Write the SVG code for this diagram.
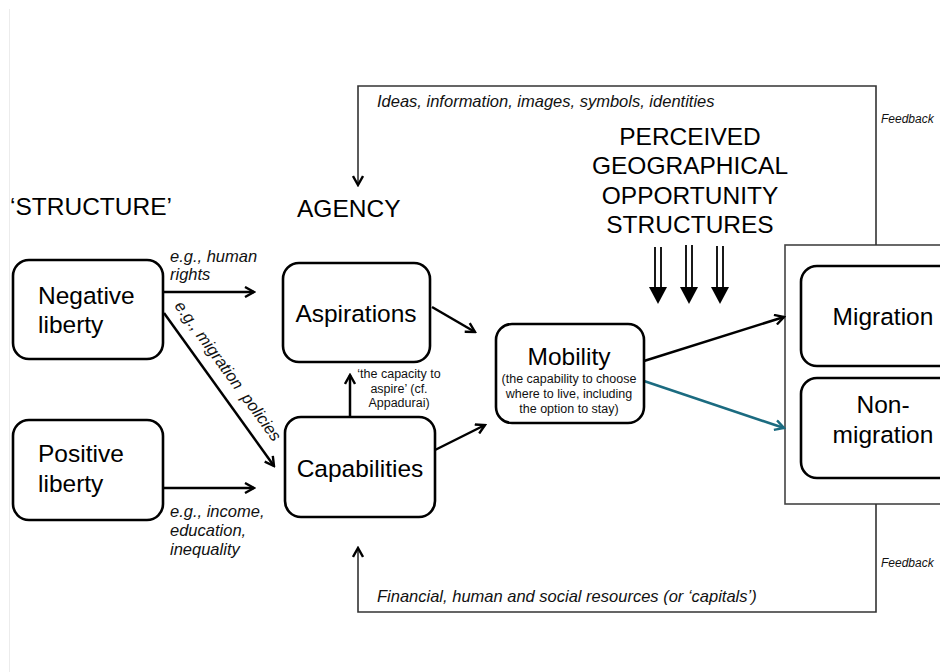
<svg xmlns="http://www.w3.org/2000/svg" width="940" height="672" viewBox="0 0 940 672">
<defs>
<style>
.box{fill:#fff;stroke:#000;stroke-width:2.6}
.big{font-family:"Liberation Sans",Arial,sans-serif;font-size:24.5px;fill:#000}
.it{font-family:"Liberation Sans",Arial,sans-serif;font-size:16.5px;font-style:italic;fill:#111}
.sm{font-family:"Liberation Sans",Arial,sans-serif;font-size:12.5px;fill:#111}
.fb{font-family:"Liberation Sans",Arial,sans-serif;font-size:12px;font-style:italic;fill:#111}
.conn{fill:none;stroke:#000;stroke-width:2.5}
.feed{fill:none;stroke:#333;stroke-width:1.6}
</style>
<marker id="arr" viewBox="0 0 12 12" refX="10" refY="6" markerWidth="12" markerHeight="12" markerUnits="userSpaceOnUse" orient="auto">
<path d="M1,1 L10,6 L1,11" fill="none" stroke="#000" stroke-width="2.4"/>
</marker>
<marker id="arrT" viewBox="0 0 12 12" refX="10" refY="6" markerWidth="12" markerHeight="12" markerUnits="userSpaceOnUse" orient="auto">
<path d="M1,1 L10,6 L1,11" fill="none" stroke="#1b6b80" stroke-width="2.4"/>
</marker>
</defs>
<rect width="940" height="672" fill="#fff"/>
<line x1="9.5" y1="9" x2="9.5" y2="672" stroke="#ececec" stroke-width="1"/>

<g id="outer-box">
<rect x="785" y="245" width="170" height="259" fill="#fff" stroke="#444" stroke-width="1.6"/>
</g>

<g id="connectors">
<polyline class="feed" points="876,245 876,86 358,86 358,185" marker-end="url(#arr)"/>
<polyline class="feed" points="876,504 876,612 358,612 358,548" marker-end="url(#arr)"/>
<line class="conn" x1="163" y1="292" x2="254" y2="292" marker-end="url(#arr)"/>
<line class="conn" x1="163" y1="488" x2="254" y2="488" marker-end="url(#arr)"/>
<line class="conn" x1="164" y1="313" x2="274" y2="466" marker-end="url(#arr)"/>
<line class="conn" x1="350" y1="417" x2="350" y2="375" marker-end="url(#arr)"/>
<line class="conn" x1="432" y1="307" x2="475" y2="332" marker-end="url(#arr)"/>
<line class="conn" x1="435" y1="450" x2="485" y2="425" marker-end="url(#arr)"/>
<line class="conn" x1="644" y1="361" x2="784" y2="317" marker-end="url(#arr)"/>
<line x1="644" y1="381" x2="784" y2="428" stroke="#1b6b80" stroke-width="2.6" marker-end="url(#arrT)"/>
<g stroke="#000" stroke-width="1.8">
<line x1="655" y1="247" x2="655" y2="288"/><line x1="661" y1="247" x2="661" y2="288"/>
<line x1="686" y1="245" x2="686" y2="288"/><line x1="692" y1="245" x2="692" y2="288"/>
<line x1="717" y1="246" x2="717" y2="288"/><line x1="723" y1="246" x2="723" y2="288"/>
</g>
<g fill="#000">
<polygon points="649,287 667,287 658,304"/>
<polygon points="680,287 698,287 689,304"/>
<polygon points="711,287 729,287 720,304"/>
</g>
</g>

<g id="labels">
<text class="big" x="10" y="215">‘STRUCTURE’</text>
<text class="big" x="297" y="217">AGENCY</text>
<text class="big" x="690" y="145" text-anchor="middle">PERCEIVED</text>
<text class="big" x="690" y="174" text-anchor="middle">GEOGRAPHICAL</text>
<text class="big" x="690" y="204" text-anchor="middle">OPPORTUNITY</text>
<text class="big" x="690" y="233" text-anchor="middle">STRUCTURES</text>
<text class="it" x="377" y="107">Ideas, information, images, symbols, identities</text>
<text class="it" x="377" y="602">Financial, human and social resources (or ‘capitals’)</text>
<text class="fb" x="881" y="123">Feedback</text>
<text class="fb" x="881" y="567">Feedback</text>
<text class="it" x="170" y="262">e.g., human</text>
<text class="it" x="170" y="280">rights</text>
<text class="it" x="170" y="517">e.g., income,</text>
<text class="it" x="170" y="536">education,</text>
<text class="it" x="170" y="555">inequality</text>
<text class="it" transform="translate(174,306) rotate(54)" xml:space="preserve">e.g., migration  policies</text>
<text class="sm" x="399" y="378" text-anchor="middle">‘the capacity to</text>
<text class="sm" x="399" y="393" text-anchor="middle">aspire’ (cf.</text>
<text class="sm" x="399" y="407" text-anchor="middle">Appadurai)</text>
</g>

<g id="negative-liberty">
<rect class="box" x="13" y="260" width="150" height="99" rx="16"/>
<text class="big" x="38" y="304">Negative</text>
<text class="big" x="38" y="333">liberty</text>
</g>
<g id="positive-liberty">
<rect class="box" x="13" y="420" width="150" height="100" rx="16"/>
<text class="big" x="38" y="462">Positive</text>
<text class="big" x="38" y="492">liberty</text>
</g>
<g id="aspirations">
<rect class="box" x="283" y="263" width="147" height="99" rx="16"/>
<text class="big" x="356" y="322" text-anchor="middle">Aspirations</text>
</g>
<g id="capabilities">
<rect class="box" x="285" y="417" width="150" height="100" rx="16"/>
<text class="big" x="360" y="477" text-anchor="middle">Capabilities</text>
</g>
<g id="mobility">
<rect class="box" x="496" y="324" width="148" height="99" rx="16"/>
<text class="big" x="569" y="365" text-anchor="middle">Mobility</text>
<text class="sm" x="569" y="383" text-anchor="middle">(the capability to choose</text>
<text class="sm" x="569" y="398" text-anchor="middle">where to live, including</text>
<text class="sm" x="569" y="413" text-anchor="middle">the option to stay)</text>
</g>
<g id="migration">
<rect class="box" x="801" y="266" width="165" height="100" rx="16"/>
<text class="big" x="883" y="325" text-anchor="middle">Migration</text>
</g>
<g id="non-migration">
<rect class="box" x="801" y="378" width="165" height="100" rx="16"/>
<text class="big" x="883" y="413" text-anchor="middle">Non-</text>
<text class="big" x="883" y="443" text-anchor="middle">migration</text>
</g>
</svg>
